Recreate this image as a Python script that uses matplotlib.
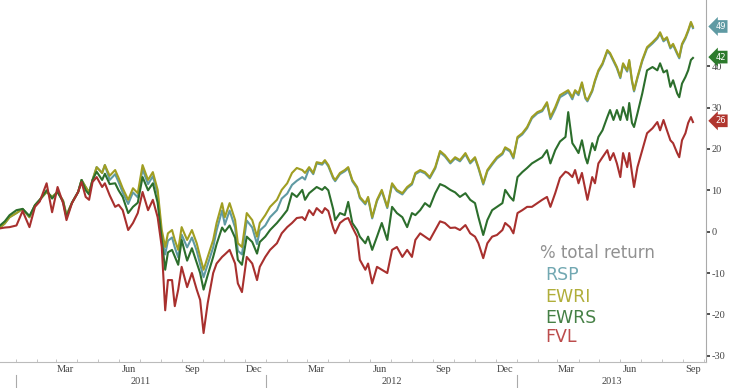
import matplotlib
matplotlib.use("Agg")
import matplotlib.pyplot as plt
import matplotlib.dates as mdates
import matplotlib.transforms as mtransforms
import pandas as pd

dates = [
    "2010-12-09", "2010-12-16", "2010-12-23", "2011-01-02", "2011-01-11", "2011-01-21", "2011-01-29",
    "2011-02-05", "2011-02-15", "2011-02-23", "2011-03-03", "2011-03-11", "2011-03-16", "2011-03-24",
    "2011-04-02", "2011-04-07", "2011-04-13", "2011-04-18", "2011-04-23", "2011-04-29", "2011-05-07",
    "2011-05-11", "2011-05-18", "2011-05-26", "2011-05-31", "2011-06-06", "2011-06-14", "2011-06-21",
    "2011-06-28", "2011-07-05", "2011-07-13", "2011-07-20", "2011-07-27", "2011-08-02", "2011-08-07",
    "2011-08-11", "2011-08-17", "2011-08-21", "2011-08-26", "2011-08-31", "2011-09-08", "2011-09-15",
    "2011-09-22", "2011-09-27", "2011-10-02", "2011-10-08", "2011-10-16", "2011-10-21", "2011-10-29",
    "2011-11-02", "2011-11-09", "2011-11-17", "2011-11-21", "2011-11-27", "2011-12-04", "2011-12-12",
    "2011-12-19", "2011-12-23", "2011-12-31", "2012-01-07", "2012-01-17", "2012-01-24", "2012-02-01",
    "2012-02-08", "2012-02-15", "2012-02-23", "2012-02-27", "2012-03-04", "2012-03-10", "2012-03-15",
    "2012-03-23", "2012-03-27", "2012-04-01", "2012-04-08", "2012-04-11", "2012-04-18", "2012-04-25",
    "2012-04-30", "2012-05-06", "2012-05-13", "2012-05-17", "2012-05-25", "2012-05-29", "2012-06-04",
    "2012-06-11", "2012-06-18", "2012-06-26", "2012-07-03", "2012-07-10", "2012-07-18", "2012-07-25",
    "2012-08-01", "2012-08-06", "2012-08-13", "2012-08-20", "2012-08-27", "2012-09-04", "2012-09-11",
    "2012-09-18", "2012-09-26", "2012-10-03", "2012-10-10", "2012-10-18", "2012-10-25", "2012-11-01",
    "2012-11-06", "2012-11-13", "2012-11-19", "2012-11-26", "2012-12-03", "2012-12-11", "2012-12-15",
    "2012-12-22", "2012-12-27", "2013-01-02", "2013-01-09", "2013-01-16", "2013-01-23", "2013-01-31",
    "2013-02-07", "2013-02-14", "2013-02-19", "2013-02-26", "2013-03-05", "2013-03-13", "2013-03-17",
    "2013-03-23", "2013-03-27", "2013-04-01", "2013-04-06", "2013-04-11", "2013-04-14", "2013-04-21",
    "2013-04-25", "2013-04-30", "2013-05-06", "2013-05-13", "2013-05-17", "2013-05-22", "2013-05-27",
    "2013-06-01", "2013-06-05", "2013-06-11", "2013-06-14", "2013-06-18", "2013-06-21", "2013-06-26",
    "2013-07-03", "2013-07-10", "2013-07-18", "2013-07-25", "2013-07-29", "2013-08-03", "2013-08-08",
    "2013-08-13", "2013-08-17", "2013-08-23", "2013-08-26", "2013-08-30", "2013-09-04", "2013-09-08",
    "2013-09-12", "2013-09-15",
]

ewri = [
    1.0, 2.0, 3.5, 4.5, 5.5, 3.5, 6.4, 7.7, 9.6, 8.4, 9.6, 7.5, 4.0, 7.0, 9.6, 12.5, 10.8, 9.5, 12.5, 15.6,
    14.2, 16.1, 13.5, 14.9, 13.0, 10.5, 7.7, 10.5, 9.3, 16.1, 12.5, 14.4, 10.1, 0.4, -3.7, -0.4, 0.4, -2.0,
    -4.4, 1.1, -2.0, 0.4, -2.8, -6.1, -9.2, -6.1, -2.0, 2.1, 6.9, 3.5, 6.9, 2.8, -2.8, -3.7, 4.5, 2.8, -1.2,
    2.1, 4.0, 6.0, 7.7, 10.1, 11.7, 14.2, 15.4, 14.9, 14.2, 15.6, 14.2, 16.8, 16.5, 17.3, 16.1, 13.2, 12.5,
    14.2, 14.9, 15.6, 12.5, 10.8, 8.4, 6.9, 8.4, 3.5, 7.7, 10.1, 6.0, 11.7, 10.1, 9.3, 10.8, 11.7, 14.2,
    14.9, 14.4, 13.2, 15.6, 19.5, 18.5, 16.8, 18.0, 17.3, 19.0, 16.8, 18.0, 15.6, 11.7, 14.9, 16.5, 18.0,
    19.0, 20.4, 19.7, 18.0, 22.9, 23.8, 25.3, 27.7, 28.9, 29.4, 31.3, 27.7, 30.1, 33.0, 33.8, 34.2, 32.5,
    34.2, 33.4, 36.1, 32.5, 31.8, 34.2, 36.6, 39.0, 40.7, 43.9, 43.2, 41.5, 39.8, 37.4, 40.7, 39.0, 41.5,
    36.6, 34.2, 37.4, 41.5, 44.6, 45.8, 47.0, 48.2, 46.3, 47.0, 44.6, 45.4, 43.2, 42.2, 45.4, 47.0, 48.7,
    50.7, 49.5,
]

rsp = [
    1.0, 2.0, 3.5, 4.5, 5.5, 3.5, 6.4, 7.7, 9.6, 8.4, 9.6, 7.5, 4.0, 7.0, 9.6, 12.5, 10.8, 9.5, 12.5, 15.6,
    14.2, 16.1, 12.5, 13.9, 12.0, 9.5, 6.7, 9.5, 8.3, 15.1, 11.5, 13.4, 9.1, -1.4, -5.5, -2.2, -1.4, -3.8,
    -6.2, -0.7, -3.8, -1.4, -4.6, -7.9, -11.0, -7.9, -3.8, 0.3, 5.1, 1.7, 5.1, 1.0, -4.6, -5.5, 2.7, 1.0,
    -3.0, 0.3, 1.5, 3.5, 5.2, 8.0, 9.2, 11.3, 12.3, 13.2, 12.6, 15.3, 13.9, 16.5, 16.2, 17.0, 15.8, 12.9,
    12.2, 13.9, 14.6, 15.3, 12.2, 10.5, 8.1, 6.6, 8.1, 3.2, 7.4, 9.8, 5.7, 11.4, 9.8, 9.0, 10.5, 11.4, 13.9,
    14.6, 14.1, 12.9, 15.3, 19.2, 18.2, 16.5, 17.7, 17.0, 18.7, 16.5, 17.7, 15.3, 11.4, 14.6, 16.2, 17.7,
    18.7, 20.1, 19.4, 17.7, 22.6, 23.5, 25.0, 27.4, 28.6, 29.1, 31.0, 27.2, 29.6, 32.5, 33.3, 33.8, 32.0,
    33.9, 33.0, 35.8, 32.2, 31.5, 33.9, 36.3, 38.7, 40.4, 43.6, 42.9, 41.2, 39.5, 37.1, 40.4, 38.7, 41.2,
    36.3, 33.9, 37.1, 41.2, 44.3, 45.5, 46.7, 47.9, 46.0, 46.7, 44.3, 45.1, 42.9, 41.9, 45.1, 46.7, 48.4,
    50.4, 49.2,
]

ewrs = [
    1.5, 2.5, 4.0, 5.2, 5.5, 3.8, 6.4, 7.7, 10.0, 8.0, 9.6, 7.2, 3.5, 7.0, 9.6, 12.5, 10.0, 9.0, 12.5, 14.5,
    12.5, 14.0, 11.5, 11.7, 10.0, 8.4, 4.5, 6.0, 7.0, 13.2, 10.0, 11.7, 7.0, -2.0, -9.2, -5.0, -4.4, -6.0,
    -8.0, -2.0, -7.0, -4.0, -7.5, -10.0, -14.0, -10.5, -6.1, -3.0, 1.0, 0.0, 1.5, -1.5, -6.8, -8.0, -1.2,
    -2.5, -5.3, -2.5, -1.2, 0.4, 2.1, 3.5, 5.2, 9.3, 8.4, 10.1, 7.7, 9.3, 10.1, 10.8, 10.1, 10.8, 10.0, 5.5,
    2.8, 4.5, 4.0, 7.2, 2.1, 0.4, -1.2, -2.8, -1.2, -4.4, -1.2, 2.1, -2.0, 6.0, 4.5, 3.5, 1.1, 4.5, 4.0,
    5.2, 6.9, 6.0, 9.3, 11.5, 11.0, 10.1, 9.5, 8.4, 9.3, 7.7, 6.9, 3.5, -0.8, 2.8, 5.2, 6.0, 6.9, 10.1, 8.4,
    7.5, 13.2, 14.4, 15.4, 16.5, 17.3, 18.0, 19.7, 16.5, 19.7, 21.8, 22.9, 28.9, 21.4, 20.4, 19.0, 22.1,
    18.0, 16.5, 21.4, 19.7, 22.9, 24.5, 27.7, 29.4, 27.0, 29.4, 27.0, 30.1, 27.0, 31.1, 26.3, 25.3, 28.6,
    33.4, 39.0, 39.8, 39.0, 40.7, 38.5, 39.0, 35.0, 36.6, 33.4, 32.5, 35.8, 37.4, 39.0, 41.5, 42.0,
]

fvl = [
    0.8, 1.0, 1.1, 1.5, 5.0, 1.1, 6.0, 7.3, 11.7, 4.7, 10.8, 6.9, 2.8, 6.9, 9.6, 12.0, 8.4, 7.7, 12.0, 13.2,
    10.8, 11.7, 8.8, 6.0, 6.5, 5.2, 0.4, 2.1, 4.5, 9.6, 5.2, 7.7, 3.5, -3.7, -19.0, -11.7, -11.7, -18.0,
    -14.0, -8.5, -13.4, -10.0, -14.0, -16.5, -24.5, -17.3, -10.0, -7.7, -6.1, -5.5, -4.4, -7.7, -12.5,
    -14.6, -6.1, -7.7, -11.7, -8.5, -6.1, -4.4, -2.8, -0.4, 1.1, 2.1, 3.3, 3.5, 2.8, 5.2, 4.0, 5.7, 4.5, 5.7,
    5.0, 0.9, -0.4, 2.1, 3.0, 3.3, 1.1, -1.2, -6.8, -9.2, -7.7, -12.5, -8.5, -9.2, -10.0, -4.4, -3.7, -6.1,
    -4.4, -6.1, -2.0, -0.4, -1.2, -2.0, 0.4, 2.5, 2.1, 0.9, 1.0, 0.4, 1.6, -0.4, -1.2, -2.8, -6.4, -2.8,
    -1.2, -0.8, 0.4, 2.1, 1.1, -0.4, 4.5, 5.2, 6.0, 6.0, 6.9, 7.7, 8.4, 6.0, 9.3, 13.0, 14.5, 14.2, 13.2,
    14.9, 11.7, 14.2, 10.1, 7.7, 13.2, 11.7, 16.5, 18.0, 19.7, 17.3, 19.0, 16.5, 13.2, 19.0, 15.6, 19.0,
    14.2, 10.8, 15.6, 19.7, 23.8, 25.0, 26.5, 24.5, 27.0, 24.5, 22.1, 21.4, 19.0, 18.0, 22.1, 23.8, 26.3,
    27.7, 26.5,
]

series_names = ["RSP", "EWRI", "EWRS", "FVL"]
line_colors = ["#5f9aa3", "#a09e22", "#2c6e2c", "#a8302e"]
text_colors = ["#72a8b2", "#b0ae3a", "#458045", "#bc4c4c"]
end_labels = ["49", "42", "26"]
end_values = [49.6, 42.2, 26.8]
end_colors = ["#5f9aa3", "#2c7a2c", "#b0352e"]
y_ticks = [-30, -20, -10, 0, 10, 20, 30, 40]
month_labels = ["Mar", "Jun", "Sep", "Dec"]
years = ["2011", "2012", "2013"]

W, H = 730, 388
fig = plt.figure(figsize=(W / 100, H / 100), dpi=100)
ax = fig.add_axes([0, 1 - 362 / H, 706 / W, 362 / H])

x = pd.to_datetime(dates)
for vals, c in zip([rsp, ewri, ewrs, fvl], line_colors):
    ax.plot(x, vals, color=c, lw=1.5, solid_joinstyle="round")

ax.set_xlim(pd.Timestamp("2010-12-09"), pd.Timestamp("2013-10-04"))
ax.set_ylim(-31.5, 56)

for s in ["top", "left"]:
    ax.spines[s].set_visible(False)
ax.spines["bottom"].set_color("#bbbbbb")
ax.spines["right"].set_color("#aaaaaa")
ax.spines["bottom"].set_linewidth(0.8)
ax.spines["right"].set_linewidth(0.8)

ax.yaxis.tick_right()
ax.set_yticks(y_ticks)
ax.set_yticklabels([str(t) for t in y_ticks])
ax.tick_params(axis="y", which="major", direction="out", length=3, width=1.2,
               color="#333333", labelcolor="#444444", labelsize=7.5, pad=1)
for lab in ax.get_yticklabels():
    lab.set_family("Liberation Serif")

# month labels at mid-month, minor ticks at month starts
mid_months = []
mlabels = []
for yr in [2011, 2012, 2013]:
    for m, name in zip([3, 6, 9, 12], month_labels):
        d = pd.Timestamp(year=yr, month=m, day=15)
        if d <= pd.Timestamp("2013-10-04"):
            mid_months.append(d)
            mlabels.append(name)
ax.set_xticks(mid_months)
ax.set_xticklabels(mlabels)
ax.xaxis.set_minor_locator(mdates.MonthLocator())
ax.tick_params(axis="x", which="major", length=0, labelsize=7.5, labelcolor="#444444", pad=2)
ax.tick_params(axis="x", which="minor", length=2, color="#bbbbbb", direction="in")
for lab in ax.get_xticklabels():
    lab.set_family("Liberation Serif")

trans = mtransforms.blended_transform_factory(ax.transData, ax.transAxes)
bounds = [pd.Timestamp("2011-01-01"), pd.Timestamp("2012-01-01"), pd.Timestamp("2013-01-01"),
          pd.Timestamp("2013-10-04")]
for i, yr in enumerate(years):
    a, b = mdates.date2num(bounds[i]), mdates.date2num(bounds[i + 1])
    ax.text((a + b) / 2, -0.053, yr, transform=trans, ha="center", va="center",
            fontsize=7.5, color="#444444", family="Liberation Serif")
for b in bounds[:3]:
    ax.plot([mdates.date2num(b)] * 2, [-0.036, -0.075], transform=trans, color="#aaaaaa",
            lw=0.8, clip_on=False)

# end-value tags
ytrans = mtransforms.blended_transform_factory(ax.transAxes, ax.transData)
for lab, v, c in zip(end_labels, end_values, end_colors):
    ax.text(1.013, v, lab, transform=ytrans, ha="left", va="center", fontsize=6,
            color="white", clip_on=False,
            bbox=dict(boxstyle="larrow,pad=0.22", fc=c, ec="none"))

# hand-written style legend
fig.text(540 / W, 1 - 253 / H, "% total return", fontsize=12, color="#919191",
         ha="left", va="center")
legend_y = [275, 297, 318, 337]
for name, c, yy in zip(series_names, text_colors, legend_y):
    fig.text(545 / W, 1 - yy / H, name, fontsize=12.5, color=c, ha="left", va="center")

fig.savefig("out.png", dpi=100)
